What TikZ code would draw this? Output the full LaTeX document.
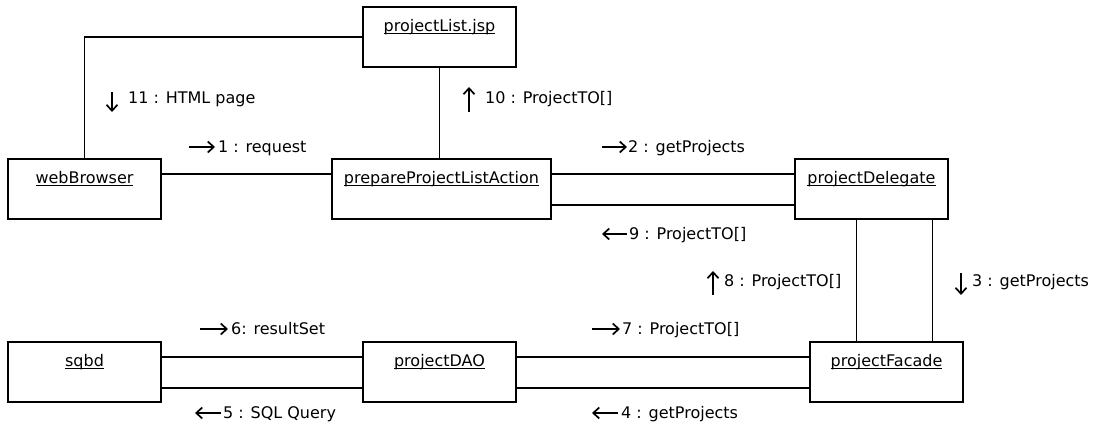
\documentclass[tikz,border=0pt]{standalone}
\usepackage{fontspec}
\setmainfont{DejaVu Sans}
\usetikzlibrary{arrows.meta}
% object name, underlined at a fixed depth below the baseline
\newcommand\objname[1]{\setbox0=\hbox{#1}\rlap{\rule[-3pt]{\wd0}{1pt}}\box0}
\begin{document}
\begin{tikzpicture}[x=1pt,y=-1pt,
  obj/.style={draw, line width=1.3pt, minimum width=153pt, minimum height=60pt, inner sep=0pt},
  objtext/.style={anchor=base, inner sep=0pt, font=\fontsize{16}{19}\selectfont},
  link/.style={line width=1.3pt},
  msg/.style={anchor=base west, inner sep=0pt, font=\fontsize{16}{19}\selectfont},
  dir/.style={line width=1.7pt, -{Straight Barb[length=6pt,width=11pt,line width=1.7pt]}},
]
\useasboundingbox (0,0) rectangle (1096,430);

% objects
\node[obj] (jsp) at (439.5,37) {};
\node[obj] (wb)  at (84.5,189) {};
\node[obj, minimum width=219pt] (pp) at (441.5,189) {};
\node[obj] (pd)  at (871.5,189) {};
\node[obj] (sq)  at (84.5,372) {};
\node[obj] (dao) at (439.5,372) {};
\node[obj] (pf)  at (886.5,372) {};

\node[objtext] (jspt) at ([yshift=-25pt]jsp.north) {\objname{projectList.jsp}};
\node[objtext] (wbt)  at ([yshift=-25pt]wb.north)  {\objname{webBrowser}};
\node[objtext] (ppt)  at ([yshift=-25pt]pp.north)  {\objname{prepareProjectListAction}};
\node[objtext] (pdt)  at ([yshift=-25pt]pd.north)  {\objname{projectDelegate}};
\node[objtext] (sqt)  at ([yshift=-25pt]sq.north)  {\objname{sqbd}};
\node[objtext] (daot) at ([yshift=-25pt]dao.north) {\objname{projectDAO}};
\node[objtext] (pft)  at ([yshift=-25pt]pf.north)  {\objname{projectFacade}};

% links
\draw[link] (jsp.west) -| (wb.north);
\draw[link] (jsp.south) -- (jsp.south |- pp.north);
\draw[link] ([yshift=15pt]wb.east) -- ([yshift=15pt]wb.east -| pp.west);
\draw[link] ([yshift=15pt]pp.east) -- ([yshift=15pt]pp.east -| pd.west);
\draw[link] ([yshift=-16pt]pp.east) -- ([yshift=-16pt]pp.east -| pd.west);
\draw[link] ([xshift=62pt]pd.south west) -- ([xshift=62pt]pd.south west |- pf.north);
\draw[link] ([xshift=138pt]pd.south west) -- ([xshift=138pt]pd.south west |- pf.north);
\draw[link] ([yshift=15pt]sq.east) -- ([yshift=15pt]sq.east -| dao.west);
\draw[link] ([yshift=-16pt]sq.east) -- ([yshift=-16pt]sq.east -| dao.west);
\draw[link] ([yshift=15pt]dao.east) -- ([yshift=15pt]dao.east -| pf.west);
\draw[link] ([yshift=-16pt]dao.east) -- ([yshift=-16pt]dao.east -| pf.west);

% messages
\node[msg] (m1)  at (218,153) {1 : request};
\node[msg] (m2)  at (628,153) {2 : getProjects};
\node[msg] (m3)  at (972,287) {3 : getProjects};
\node[msg] (m4)  at (621,419) {4 : getProjects};
\node[msg] (m5)  at (223,419) {5 : SQL Query};
\node[msg] (m6)  at (231,335) {6: resultSet};
\node[msg] (m7)  at (622,335) {7 : ProjectTO[]};
\node[msg] (m8)  at (724,287) {8 : ProjectTO[]};
\node[msg] (m9)  at (629,240) {9 : ProjectTO[]};
\node[msg] (m10) at (485,104) {10 : ProjectTO[]};
\node[msg] (m11) at (128,104) {11 : HTML page};

% message directions
\draw[dir] ([xshift=-29pt,yshift=6pt]m1.base west) -- ([xshift=-3pt,yshift=6pt]m1.base west);
\draw[dir] ([xshift=-26pt,yshift=6pt]m2.base west) -- ([xshift=-1pt,yshift=6pt]m2.base west);
\draw[dir] ([xshift=-11pt,yshift=14pt]m3.base west) -- ([xshift=-11pt,yshift=-8pt]m3.base west);
\draw[dir] ([xshift=-3pt,yshift=6pt]m4.base west) -- ([xshift=-29pt,yshift=6pt]m4.base west);
\draw[dir] ([xshift=-2pt,yshift=6pt]m5.base west) -- ([xshift=-28pt,yshift=6pt]m5.base west);
\draw[dir] ([xshift=-31pt,yshift=6pt]m6.base west) -- ([xshift=-3pt,yshift=6pt]m6.base west);
\draw[dir] ([xshift=-30pt,yshift=6pt]m7.base west) -- ([xshift=-2pt,yshift=6pt]m7.base west);
\draw[dir] ([xshift=-11pt,yshift=-8pt]m8.base west) -- ([xshift=-11pt,yshift=16pt]m8.base west);
\draw[dir] ([xshift=-2pt,yshift=6pt]m9.base west) -- ([xshift=-27pt,yshift=6pt]m9.base west);
\draw[dir] ([xshift=-16pt,yshift=-8pt]m10.base west) -- ([xshift=-16pt,yshift=17pt]m10.base west);
\draw[dir] ([xshift=-16pt,yshift=12pt]m11.base west) -- ([xshift=-16pt,yshift=-8pt]m11.base west);
\end{tikzpicture}
\end{document}
